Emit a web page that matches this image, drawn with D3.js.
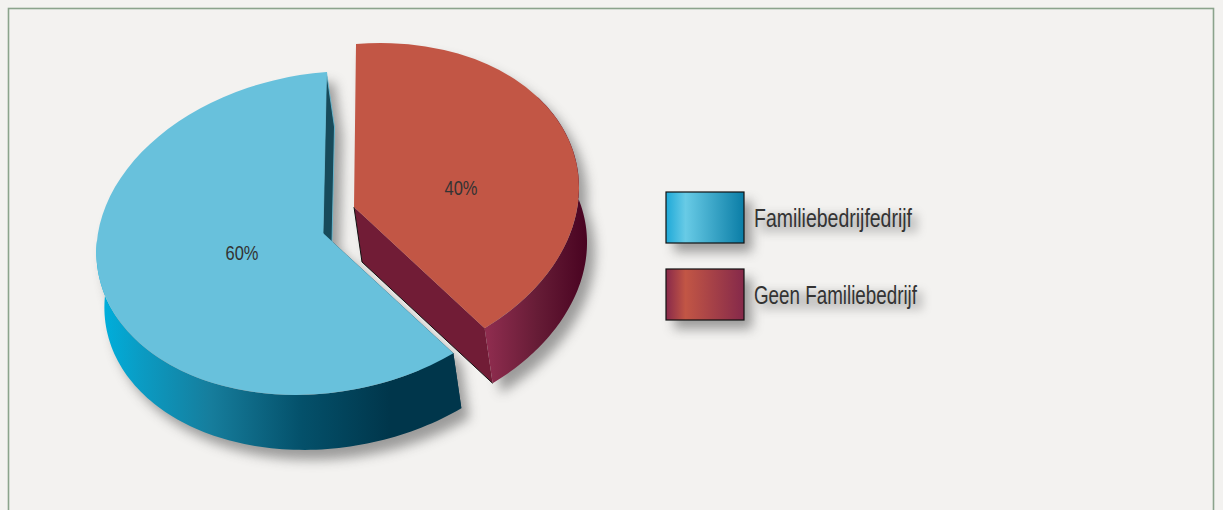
<!DOCTYPE html>
<html><head><meta charset="utf-8">
<script src="https://cdn.jsdelivr.net/npm/d3@7"></script>
<style>html,body{margin:0;padding:0;background:#f3f2f0;overflow:hidden}svg{display:block}
text{font-family:"Liberation Sans Narrow","Liberation Sans",sans-serif;fill:#333}</style>
</head><body><svg id="c" width="1223" height="510"></svg>
<script>
const categories = ["Familiebedrijfedrijf", "Geen Familiebedrijf"];
const values = [60, 40];
const valueLabels = ["60%", "40%"];
const topColors = ["#68c1dc", "#c25645"];

const svg = d3.select("#c"), defs = svg.append("defs");
svg.append("rect").attr("width",1223).attr("height",510).attr("fill","#f3f2f0");
svg.append("rect").attr("x",8.5).attr("y",8.5).attr("width",1205).attr("height",520)
  .attr("fill","#f3f2f0").attr("stroke","#8ba38c").attr("stroke-width",1.6);

function grad(id, x1, x2, stops, user){
  const g = defs.append("linearGradient").attr("id",id).attr("x1",x1).attr("x2",x2).attr("y1",0).attr("y2",0);
  if(user) g.attr("gradientUnits","userSpaceOnUse");
  stops.forEach(s=>g.append("stop").attr("offset",s[0]).attr("stop-color",s[1]));
}
grad("rimB",104,461,[[0,"#00aedb"],[.1,"#0a9cc4"],[.3,"#167d9c"],[.55,"#04516b"],[.8,"#00364b"],[1,"#00364b"]],true);
grad("rimR",488,587,[[0,"#8e2c4e"],[.5,"#661c36"],[1,"#490321"]],true);
grad("legB",0,1,[[0,"#1ea9d8"],[.25,"#68cbe6"],[1,"#0a7da6"]]);
grad("legR",0,1,[[0,"#88294a"],[.25,"#c25645"],[1,"#85294a"]]);

const soft = defs.append("filter").attr("id","soft").attr("x","-20%").attr("y","-20%").attr("width","140%").attr("height","140%");
soft.append("feGaussianBlur").attr("stdDeviation",6);
const softT = defs.append("filter").attr("id","softT").attr("x","-20%").attr("y","-60%").attr("width","140%").attr("height","220%");
softT.append("feGaussianBlur").attr("stdDeviation",5);

const R = 100;
const depth = [8, 55];
// Projection of the tilted pie: unit disc -> screen
const proj = [
  {a:226.6,b:-3.5,c:-17,d:161,cx:323,cy:233},
  {a:225,b:-2,c:-18,d:163,cx:354,cy:207}
];
const matrix = p => `matrix(${p.a/R},${p.c/R},${p.b/R},${p.d/R},${p.cx},${p.cy})`;
const pt = (p,ang,r=1,dx=0,dy=0)=>{const u=Math.sin(ang)*r,v=-Math.cos(ang)*r;
  return [p.cx+p.a*u+p.b*v+dx,p.cy+p.c*u+p.d*v+dy];};
const line = d3.line();

const arcs = d3.pie().sort(null).startAngle(2*Math.PI*0.4).endAngle(2*Math.PI*1.4)(values);
const arc = d3.arc().innerRadius(0).outerRadius(R);

function band(p,a0,a1){
  const n=90, s=d3.range(n+1).map(i=>a0+(a1-a0)*i/n);
  return line(s.map(a=>pt(p,a)).concat(s.slice().reverse().map(a=>pt(p,a,1,depth[0],depth[1]))))+"Z";
}
function side(p,a){ // radial wall quad
  return line([pt(p,a,0),pt(p,a),pt(p,a,1,...depth),pt(p,a,0,...depth)])+"Z";
}
const visible = [[arcs[0].startAngle, arcs[0].startAngle+Math.PI*0.72],[arcs[1].startAngle+Math.PI*0.3, arcs[1].endAngle]];

// shadows
const sh = svg.append("g").attr("transform","translate(8,10)").attr("filter","url(#soft)").attr("opacity",.55);
arcs.forEach((d,i)=>{
  const p=proj[i];
  sh.append("path").attr("d",band(p,...visible[i])).attr("fill","#555");
  sh.append("path").attr("d",side(p,i?d.startAngle:d.endAngle)).attr("fill","#555");
  sh.append("path").attr("d",arc(d)).attr("transform",matrix(p)).attr("fill","#555");
});

// blue slice
const gB = svg.append("g"), p0 = proj[0], b = arcs[0];
gB.append("path").attr("d",band(p0,...visible[0])).attr("fill","url(#rimB)");
gB.append("path").attr("d",side(p0,b.startAngle)).attr("fill","#00364b");
gB.append("path").attr("d",side(p0,b.endAngle)).attr("fill","#174a5a").attr("stroke","#68c1dc").attr("stroke-width",.8);
gB.append("path").attr("d",arc(b)).attr("transform",matrix(p0)).attr("fill",topColors[0]);

// red slice
const gR = svg.append("g"), p1 = proj[1], r = arcs[1];
gR.append("path").attr("d",band(p1,...visible[1])).attr("fill","url(#rimR)");
gR.append("path").attr("d",side(p1,r.endAngle)).attr("fill","#711c36");
gR.append("path").attr("d",line([pt(p1,0,0),pt(p1,0,0,...depth),pt(p1,r.endAngle,1,...depth)]))
  .attr("fill","none").attr("stroke","#111").attr("stroke-width",1);
gR.append("path").attr("d",arc(r)).attr("transform",matrix(p1)).attr("fill",topColors[1]);

// value labels
const labelPos = [[242,260],[461,195]];
valueLabels.forEach((t,i)=>svg.append("text").attr("x",labelPos[i][0]).attr("y",labelPos[i][1])
  .attr("text-anchor","middle").attr("font-size",21).attr("textLength",33).attr("lengthAdjust","spacingAndGlyphs").text(t));

// legend
const legY = d3.scalePoint().domain(categories).range([192,269]);
const legH = [51,51], legendW=[158,163], fills=["url(#legB)","url(#legR)"];
categories.forEach((c,i)=>{
  const y=legY(c);
  svg.append("rect").attr("x",674).attr("y",y+9).attr("width",78).attr("height",legH[i]).attr("fill","#555").attr("opacity",.55).attr("filter","url(#soft)");
  svg.append("rect").attr("x",760).attr("y",y+22).attr("width",legendW[i]).attr("height",19).attr("fill","#666").attr("opacity",.3).attr("filter","url(#softT)");
  svg.append("rect").attr("x",666).attr("y",y).attr("width",78).attr("height",legH[i]).attr("fill",fills[i]).attr("stroke","#111").attr("stroke-width",1.2);
  svg.append("text").attr("x",754).attr("y",y+35).attr("font-size",26).attr("textLength",legendW[i]).attr("lengthAdjust","spacingAndGlyphs").text(c);
});
</script></body></html>
